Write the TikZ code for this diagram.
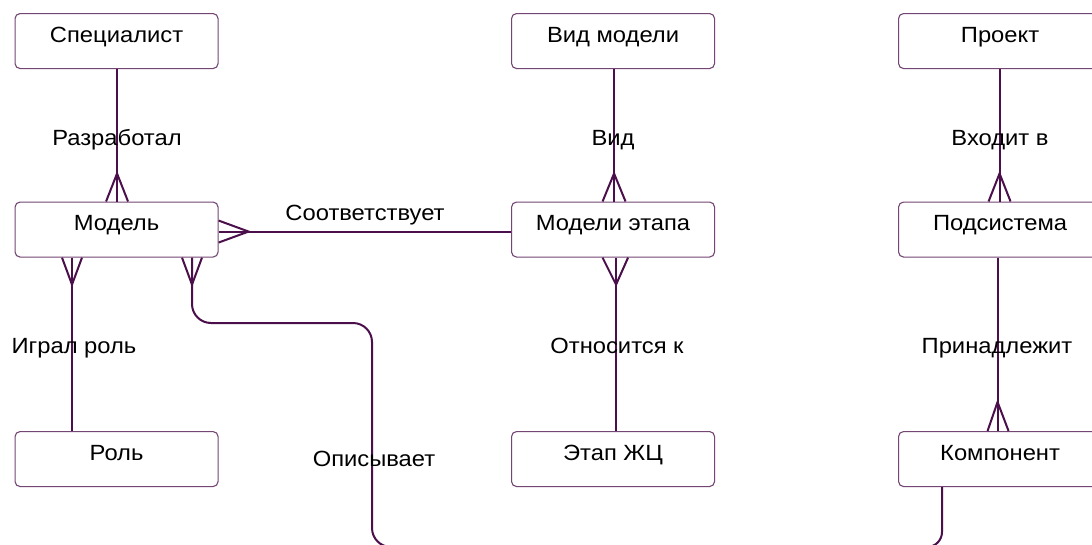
\documentclass[tikz,border=0pt]{standalone}
\usepackage{fontspec}
\setmainfont{Liberation Sans}[FakeStretch=1.08]
\usetikzlibrary{calc}
\definecolor{lineC}{RGB}{75,15,75}
\definecolor{boxC}{RGB}{115,70,115}
\begin{document}
\begin{tikzpicture}[x=1pt,y=-1pt,
  entity/.style={draw=boxC, line width=1.1pt, rounded corners=5pt, minimum width=203pt, minimum height=55pt, inner sep=0pt, text height=28.5pt, text depth=26.5pt, font=\fontsize{22}{26}\selectfont, anchor=north west},
  conn/.style={draw=lineC, line width=2pt},
  rel/.style={font=\fontsize{22}{26}\selectfont, anchor=base, inner sep=0pt}]
\useasboundingbox (0,0) rectangle (1092,544);
\clip (0,0) rectangle (1092,544);
\fill[white] (0,0) rectangle (1092,544);
% entities
\node[entity] (spec) at (14.5,13) {Специалист};
\node[entity] (model) at (14.5,201.5) {Модель};
\node[entity] (role) at (14.5,431) {Роль};
\node[entity] (vid) at (511,13) {Вид модели};
\node[entity] (mstage) at (511,201.5) {Модели этапа};
\node[entity] (stage) at (511,431) {Этап ЖЦ};
\node[entity] (proj) at (898,13) {Проект};
\node[entity] (sub) at (898,201.5) {Подсистема};
\node[entity] (comp) at (898,431) {Компонент};
% Специалист - Модель
\draw[conn] ($(spec.south)+(0.5,0)$) -- ($(model.north)+(0.5,0)$);
\draw[conn] ($(model.north)+(-10.5,0)$) -- ($(model.north)+(0.5,-28)$) -- ($(model.north)+(11.5,0)$);
% Модель - Модели этапа
\draw[conn] ($(model.east)+(0,2)$) -- ($(mstage.west)+(0,2)$);
\draw[conn] ($(model.east)+(0,-9)$) -- ($(model.east)+(30,2)$) -- ($(model.east)+(0,13)$);
% Модель - Роль
\coordinate (mA) at ($(model.south west)+(57.5,0)$);
\coordinate (rA) at ($(role.north west)+(57.5,0)$);
\draw[conn] (mA) -- (rA);
\draw[conn] ($(mA)+(-10,0)$) -- ($(mA)+(0,27)$) -- ($(mA)+(10,0)$);
% Модель - Описывает
\coordinate (mB) at ($(model.south west)+(177.5,0)$);
\coordinate (d1) at (372,323);
\coordinate (d2) at (372,547);
\coordinate (d3) at (440,547);
\draw[conn, rounded corners=19pt] (mB) |- (d1) -- (d2) -- (d3);
\draw[conn] ($(mB)+(-10,0)$) -- ($(mB)+(0,27)$) -- ($(mB)+(10,0)$);
% Вид модели - Модели этапа
\draw[conn] ($(vid.south)+(1,0)$) -- ($(mstage.north)+(1,0)$);
\draw[conn] ($(mstage.north)+(-10.5,0)$) -- ($(mstage.north)+(1,-28)$) -- ($(mstage.north)+(12.5,0)$);
% Модели этапа - Этап ЖЦ
\draw[conn] ($(mstage.south)+(3,0)$) -- ($(stage.north)+(3,0)$);
\draw[conn] ($(mstage.south)+(-10.5,0)$) -- ($(mstage.south)+(3,27)$) -- ($(mstage.south)+(15,0)$);
% Проект - Подсистема
\draw[conn] ($(proj.south)+(-0.5,0)$) -- ($(sub.north)+(-0.5,0)$);
\draw[conn] ($(sub.north)+(-11.5,0)$) -- ($(sub.north)+(-0.5,-28)$) -- ($(sub.north)+(10.5,0)$);
% Подсистема - Компонент
\draw[conn] ($(sub.south)+(-2.5,0)$) -- ($(comp.north)+(-2.5,0)$);
\draw[conn] ($(comp.north)+(-12.5,0)$) -- ($(comp.north)+(-2.5,-29)$) -- ($(comp.north)+(8.5,0)$);
% Компонент - off canvas
\coordinate (cB) at ($(comp.south west)+(44,0)$);
\coordinate (c1) at (942,547);
\coordinate (c2) at (890,547);
\draw[conn, rounded corners=15pt] (cB) -- (c1) -- (c2);
% relationship labels
\node[rel] (lRaz) at (117,145) {Разработал};
\node[rel] (lSoo) at (365,220) {Соответствует};
\node[rel] (lIgr) at (74,353) {Играл роль};
\node[rel] (lOpi) at (374,466) {Описывает};
\node[rel] (lVid) at (613,145) {Вид};
\node[rel] (lOtn) at (617,353) {Относится к};
\node[rel] (lVho) at (1000,145) {Входит в};
\node[rel] (lPri) at (997,353) {Принадлежит};
\end{tikzpicture}
\end{document}
